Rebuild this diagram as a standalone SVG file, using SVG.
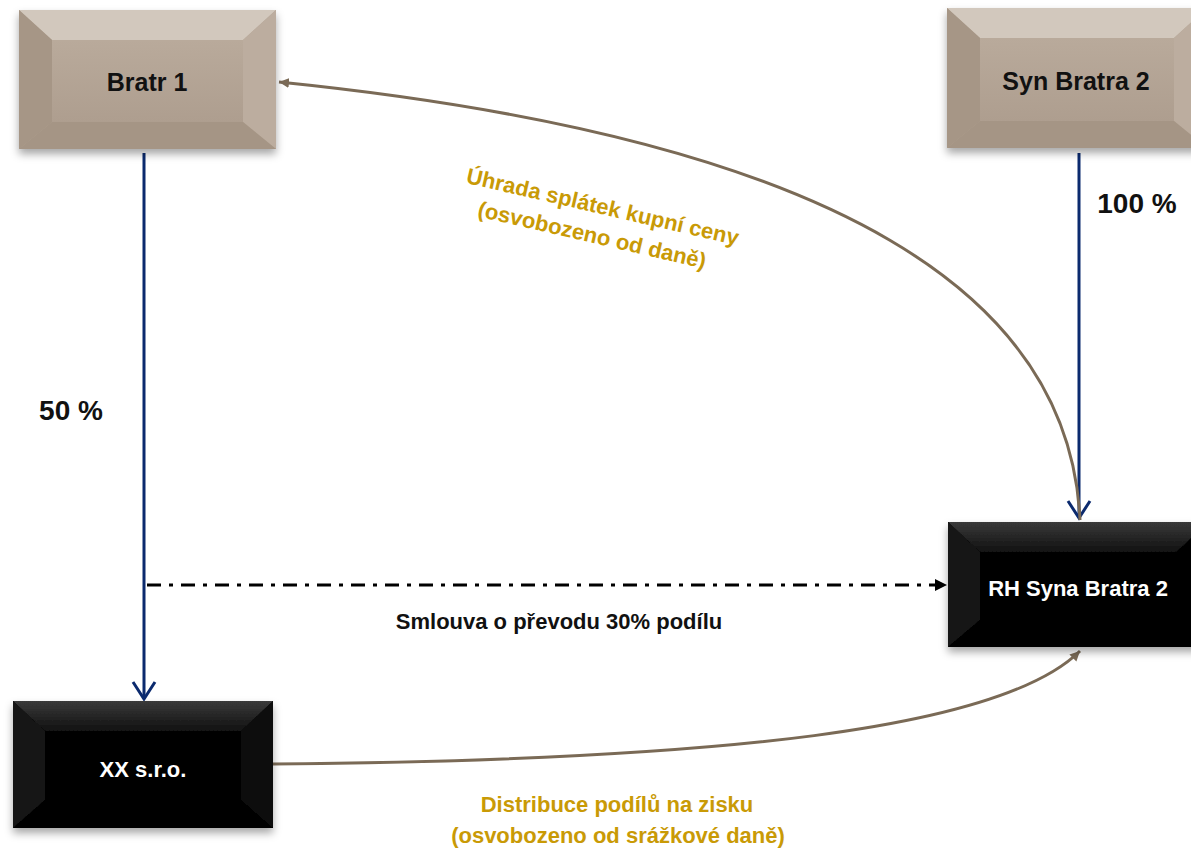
<svg xmlns="http://www.w3.org/2000/svg" width="1191" height="849" viewBox="0 0 1191 849">
<defs>
<style>
.lbl{font-family:"Liberation Sans",Arial,sans-serif;font-weight:bold;text-anchor:middle}
.dark{fill:#111}
.white{fill:#fff}
.gold{fill:#C99A06}
.blue{stroke:#0B2A6E;stroke-width:3;fill:none}
.brown{stroke:#7A6A56;stroke-width:3;fill:none}
</style>
<linearGradient id="tan" x1="0" y1="0" x2="0" y2="1">
<stop offset="0" stop-color="#B9AA9B"/>
<stop offset="1" stop-color="#AE9E8F"/>
</linearGradient>
<linearGradient id="blk" x1="0" y1="0" x2="0" y2="1">
<stop offset="0" stop-color="#3A3A3A"/>
<stop offset="1" stop-color="#111"/>
</linearGradient>
<filter id="sh" x="-10%" y="-10%" width="120%" height="130%">
<feDropShadow dx="0" dy="5" stdDeviation="4" flood-color="#000" flood-opacity="0.35"/>
</filter>
<marker id="ab" markerWidth="12" markerHeight="12" refX="10" refY="6" orient="auto" markerUnits="userSpaceOnUse">
<path d="M0,1 L10,6 L0,11 Z" fill="#7A6A56"/>
</marker>
<marker id="ak" markerWidth="14" markerHeight="14" refX="12" refY="7" orient="auto" markerUnits="userSpaceOnUse">
<path d="M0,1 L12,7 L0,13 Z" fill="#000"/>
</marker>
</defs>

<g id="connectors">
<line class="blue" x1="144" y1="153" x2="144" y2="699"/>
<polyline class="blue" points="133,682 144,699 155,682"/>
<line class="blue" x1="1079" y1="153" x2="1079" y2="518"/>
<polyline class="blue" points="1068,501 1079,518 1090,501"/>
<path class="brown" d="M1080,520 C1070,300 850,140 279,82" marker-end="url(#ab)"/>
<path class="brown" d="M273,764 C720,760 1000,730 1080,651" marker-end="url(#ab)"/>
<line x1="147" y1="585" x2="947" y2="585" stroke="#000" stroke-width="3" stroke-dasharray="14,8,4,8" marker-end="url(#ak)"/>
</g>

<g id="bratr1">
<g filter="url(#sh)">
<rect x="19" y="10" width="257" height="139" fill="#B3A394"/>
<polygon points="19,10 276,10 243,40 52,40" fill="#D2C8BD"/>
<polygon points="19,10 52,40 52,122 19,149" fill="#A69686"/>
<polygon points="276,10 276,149 243,122 243,40" fill="#BCAD9F"/>
<polygon points="19,149 52,122 243,122 276,149" fill="#A59585"/>
<rect x="52" y="40" width="191" height="82" fill="url(#tan)"/>
</g>
<text class="lbl dark" x="147" y="91" font-size="25">Bratr 1</text>
</g>

<g id="synbratra2">
<g filter="url(#sh)">
<rect x="947" y="8" width="260" height="140" fill="#B3A394"/>
<polygon points="947,8 1207,8 1174,38 980,38" fill="#D2C8BD"/>
<polygon points="947,8 980,38 980,121 947,148" fill="#A69686"/>
<polygon points="1207,8 1207,148 1174,121 1174,38" fill="#BCAD9F"/>
<polygon points="947,148 980,121 1174,121 1207,148" fill="#A59585"/>
<rect x="980" y="38" width="194" height="83" fill="url(#tan)"/>
</g>
<text class="lbl dark" x="1076" y="90" font-size="25">Syn Bratra 2</text>
</g>

<g id="rh">
<g filter="url(#sh)">
<rect x="948" y="522" width="260" height="125" fill="#050505"/>
<polygon points="948,522 1208,522 1176,552 980,552" fill="url(#blk)"/>
<polygon points="948,522 980,552 980,620 948,647" fill="#141414"/>
<polygon points="948,647 980,620 1176,620 1208,647" fill="#000"/>
<rect x="980" y="552" width="196" height="68" fill="#060606"/>
</g>
<text class="lbl white" x="1078" y="596" font-size="22">RH Syna Bratra 2</text>
</g>

<g id="xx">
<g filter="url(#sh)">
<rect x="13" y="701" width="260" height="127" fill="#050505"/>
<polygon points="13,701 273,701 241,731 45,731" fill="url(#blk)"/>
<polygon points="13,701 45,731 45,800 13,828" fill="#141414"/>
<polygon points="273,701 273,828 241,800 241,731" fill="#0E0E0E"/>
<polygon points="13,828 45,800 241,800 273,828" fill="#000"/>
<rect x="45" y="731" width="196" height="69" fill="#060606"/>
</g>
<text class="lbl white" x="143" y="777" font-size="22">XX s.r.o.</text>
</g>

<g id="labels">
<text class="lbl dark" x="71" y="420" font-size="28">50 %</text>
<text class="lbl dark" x="1137" y="213" font-size="28">100 %</text>
<text class="lbl dark" x="559" y="629" font-size="22">Smlouva o převodu 30% podílu</text>
<text class="lbl gold" x="617" y="812" font-size="22">Distribuce podílů na zisku</text>
<text class="lbl gold" x="618" y="843" font-size="22">(osvobozeno od srážkové daně)</text>
<g transform="translate(601,214) rotate(13)">
<text class="lbl gold" x="0" y="0" font-size="22">Úhrada splátek kupní ceny</text>
<text class="lbl gold" x="-4" y="30" font-size="22">(osvobozeno od daně)</text>
</g>
</g>
</svg>
